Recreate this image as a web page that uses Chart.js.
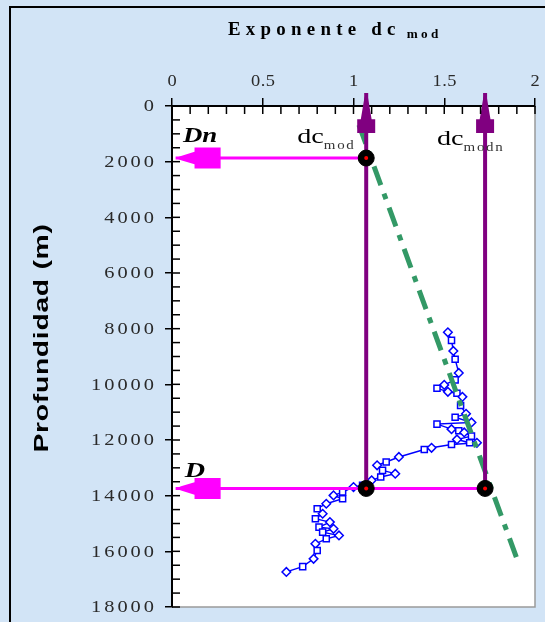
<!DOCTYPE html>
<html><head><meta charset="utf-8">
<script src="https://cdn.jsdelivr.net/npm/chart.js@4/dist/chart.umd.min.js"></script>
<style>html,body{margin:0;padding:0;background:#d2e4f6;overflow:hidden}canvas{display:block}</style>
</head><body>
<canvas id="c" width="545" height="622"></canvas>
<script>
// ---- data ----
const dcValues = [1.52,1.54,1.55,1.56,1.58,1.56,1.50,1.46,1.52,1.57,1.60,1.59,1.62,1.56,1.65,1.46,1.54,1.58,1.61,1.65,1.57,1.64,1.68,1.54,1.43,1.39,1.25,1.18,1.13,1.16,1.23,1.15,1.10,1.05,1.00,0.94,0.89,0.94,0.85,0.80,0.83,0.79,0.87,0.81,0.89,0.83,0.92,0.85,0.79,0.80,0.78,0.72,0.63];
const depthValues = [8130,8420,8800,9100,9590,9840,10020,10140,10270,10320,10450,10760,11060,11180,11370,11430,11610,11670,11730,11860,11980,12100,12100,12160,12280,12340,12610,12790,12910,13090,13210,13330,13450,13630,13690,13870,13990,14110,14290,14470,14650,14830,14950,15130,15190,15310,15430,15550,15730,15970,16270,16550,16740];
const trendDc = [1.03, 1.91];
const trendDepth = [680, 16440];
const markerDc = [1.07, 1.07, 1.725];
const markerDepth = [1870, 13740, 13740];
// arrows: shaft from -> to (tip)
const purpleFromDc = [1.07, 1.725], purpleFromDepth = [13740, 13740];
const purpleToDc = [1.07, 1.725], purpleToDepth = [-470, -470];
const magentaFromDc = [1.07, 1.725], magentaFromDepth = [1870, 13740];
const magentaToDc = [0.02, 0.02], magentaToDepth = [1870, 13740];
// ticks
const xTickValues = [0, 0.5, 1, 1.5, 2];
const yTickValues = [0,2000,4000,6000,8000,10000,12000,14000,16000,18000];
const xTickLabels = ['0','0.5','1','1.5','2'];
const yTickLabels = ['0','2000','4000','6000','8000','10000','12000','14000','16000','18000'];
// text
const titleMain = 'Exponente dc', titleSub = 'mod';
const yTitle = 'Profundidad (m)';
const notes = [
  {text:'Dn', sub:'', x:0.06, y:1300, font:'italic bold 21px "Liberation Serif"'},
  {text:'dc', sub:'mod', x:0.69, y:1330, font:'22px "Liberation Serif"'},
  {text:'dc', sub:'modn', x:1.46, y:1400, font:'22px "Liberation Serif"'},
  {text:'D', sub:'', x:0.07, y:13340, font:'italic bold 22px "Liberation Serif"'}
];

const PURPLE = '#800080', MAGENTA = '#ff00ff', GREEN = '#339966', BLUE = '#0000ff';
const pts = (xs, ys) => xs.map((v,i)=>({x:v, y:ys[i]}));
const isMajorX = v => Math.abs(v*2 - Math.round(v*2)) < 1e-6;
const isMajorY = v => Math.abs(v/2000 - Math.round(v/2000)) < 1e-6;

const datasets = [
  {data: pts(markerDc, markerDepth), showLine:false, pointRadius:2, pointBackgroundColor:'#ff0000', pointBorderWidth:0},
  {data: pts(markerDc, markerDepth), showLine:false, pointRadius:8, pointBackgroundColor:'#000', pointBorderColor:'#000'},
];
magentaFromDc.forEach((v,i)=>datasets.push({data:[{x:v,y:magentaFromDepth[i]},{x:magentaToDc[i],y:magentaToDepth[i]}], showLine:true, borderColor:MAGENTA, borderWidth:3, pointRadius:0, clip:false}));
purpleFromDc.forEach((v,i)=>datasets.push({data:[{x:v,y:purpleFromDepth[i]},{x:purpleToDc[i],y:purpleToDepth[i]}], showLine:true, borderColor:PURPLE, borderWidth:4, pointRadius:0, clip:false}));
datasets.push({data: pts(trendDc, trendDepth), showLine:true, borderColor:GREEN, borderWidth:5, borderDash:[20,9,6,9], pointRadius:0});
datasets.push({data: pts(dcValues, depthValues), showLine:true, borderColor:BLUE, borderWidth:1.4,
  pointRadius:4.3, pointStyle:(c)=> c.dataIndex%2 ? 'rect':'rectRot', pointBorderColor:BLUE, pointBackgroundColor:'#fff', pointBorderWidth:1.5});

function arrowHead(ctx, x1, y1, x2, y2, L, W, split, color){
  const dx = x2-x1, dy = y2-y1, len = Math.hypot(dx,dy);
  const ux = dx/len, uy = dy/len, nx = -uy, ny = ux;
  const P = (t,h)=>[x2 - ux*t + nx*h, y2 - uy*t + ny*h];
  const poly = [P(0,0), P(0.12*L,0.1*W), P(split*L,0.3*W), P(split*L,0.5*W), P(L,0.5*W),
                P(L,-0.5*W), P(split*L,-0.5*W), P(split*L,-0.3*W), P(0.12*L,-0.1*W)];
  ctx.beginPath(); ctx.moveTo(...poly[0]); poly.slice(1).forEach(p=>ctx.lineTo(...p)); ctx.closePath();
  ctx.fillStyle = color; ctx.fill();
}
function txt(ctx, s, x, y, font, align, sx, spacing){
  ctx.save(); ctx.translate(x, y); ctx.scale(sx, 1);
  ctx.font = font; ctx.letterSpacing = spacing + 'px'; ctx.textAlign = align;
  ctx.fillText(s, align === 'right' ? spacing : 0, 0);
  const w = (ctx.measureText(s).width) * sx;
  ctx.restore();
  return w;
}

const decor = {
  id:'decor',
  beforeDraw(chart){
    const {ctx, chartArea:a} = chart;
    ctx.save();
    ctx.fillStyle = '#d2e4f6'; ctx.fillRect(0,0,chart.width,chart.height);
    ctx.strokeStyle = '#000'; ctx.lineWidth = 2;
    ctx.beginPath(); ctx.moveTo(10, chart.height); ctx.lineTo(10, 7); ctx.lineTo(chart.width, 7); ctx.stroke();
    ctx.fillStyle = '#fff'; ctx.fillRect(a.left, a.top, a.right-a.left, a.bottom-a.top);
    ctx.strokeStyle = '#9a9a9a'; ctx.lineWidth = 1.5;
    ctx.beginPath(); ctx.moveTo(a.left, a.bottom); ctx.lineTo(a.right, a.bottom); ctx.lineTo(a.right, a.top); ctx.stroke();
    ctx.restore();
  },
  afterDatasetsDraw(chart){
    const {ctx, scales:{x,y}} = chart;
    ctx.save();
    purpleFromDc.forEach((v,i)=>arrowHead(ctx, x.getPixelForValue(v), y.getPixelForValue(purpleFromDepth[i]), x.getPixelForValue(purpleToDc[i]), y.getPixelForValue(purpleToDepth[i]), 40, 18, 0.66, PURPLE));
    magentaFromDc.forEach((v,i)=>arrowHead(ctx, x.getPixelForValue(v), y.getPixelForValue(magentaFromDepth[i]), x.getPixelForValue(magentaToDc[i]), y.getPixelForValue(magentaToDepth[i]), 45, 21, 0.42, MAGENTA));
    ctx.restore();
  },
  afterDraw(chart){
    const {ctx, chartArea:a, scales:{x,y}} = chart;
    ctx.save();
    // inward ticks
    ctx.strokeStyle = '#000'; ctx.lineWidth = 1.5;
    x.ticks.forEach(t=>{const p = x.getPixelForValue(t.value); ctx.beginPath(); ctx.moveTo(p, a.top); ctx.lineTo(p, a.top+8); ctx.stroke();});
    y.ticks.forEach(t=>{const p = y.getPixelForValue(t.value); ctx.beginPath(); ctx.moveTo(a.left, p); ctx.lineTo(a.left+8, p); ctx.stroke();});
    // tick labels
    ctx.fillStyle = '#2a2a2a'; ctx.textBaseline = 'alphabetic';
    xTickValues.forEach((v,i)=>txt(ctx, xTickLabels[i], x.getPixelForValue(v)+0.5, a.top-20, '16px "Liberation Serif"', 'center', 1.15, 0.5));
    ctx.textBaseline = 'middle';
    yTickValues.forEach((v,i)=>txt(ctx, yTickLabels[i], a.left-18, y.getPixelForValue(v)+1, '17px "Liberation Serif"', 'right', 1.2, 2.5));
    // title
    ctx.fillStyle = '#000'; ctx.textBaseline = 'alphabetic';
    const w = txt(ctx, titleMain, 228, 35, 'bold 18px "Liberation Serif"', 'left', 1.05, 5);
    txt(ctx, titleSub, 228 + w + 6, 38, 'bold 12px "Liberation Serif"', 'left', 1.1, 3);
    // y title
    ctx.save();
    ctx.translate(42, 338); ctx.rotate(-Math.PI/2); ctx.scale(1.35,1);
    ctx.font = 'bold 21px "Liberation Sans"'; ctx.letterSpacing = '0.5px';
    ctx.textAlign = 'center'; ctx.textBaseline = 'middle';
    ctx.fillText(yTitle, 0, 0);
    ctx.restore();
    // notes
    notes.forEach(n=>{
      const px = x.getPixelForValue(n.x), py = y.getPixelForValue(n.y);
      ctx.fillStyle = '#000'; ctx.textBaseline = 'alphabetic';
      const tw = txt(ctx, n.text, px, py, n.font, 'left', 1.28, 0);
      if (n.sub){
        ctx.fillStyle = '#333';
        txt(ctx, n.sub, px + tw, py + 6, '13px "Liberation Serif"', 'left', 1.15, 1.5);
      }
    });
    ctx.restore();
  }
};

new Chart(document.getElementById('c'), {
  type:'scatter',
  data:{datasets},
  options:{
    responsive:false, animation:false, devicePixelRatio:1,
    layout:{padding:{left:0, top:0, right:10, bottom:15}},
    plugins:{legend:{display:false}, tooltip:{enabled:false}},
    scales:{
      x:{type:'linear', position:'top', min:0, max:2,
        ticks:{stepSize:0.1, display:false, autoSkip:false},
        grid:{drawOnChartArea:false, drawTicks:true, tickLength:8, lineWidth:1.5, color:c=> c.tick && isMajorX(c.tick.value) ? '#000' : 'rgba(0,0,0,0)'},
        border:{display:true, color:'#000', width:2},
        afterFit:s=>{s.height = 106;}},
      y:{type:'linear', reverse:true, min:0, max:18000,
        ticks:{stepSize:500, display:false, autoSkip:false},
        grid:{drawOnChartArea:false, drawTicks:true, tickLength:7, lineWidth:1.5, color:c=> c.tick && isMajorY(c.tick.value) ? '#000' : 'rgba(0,0,0,0)'},
        border:{display:true, color:'#000', width:2},
        afterFit:s=>{s.width = 172;}}
    }
  },
  plugins:[decor]
});
</script>
</body></html>
